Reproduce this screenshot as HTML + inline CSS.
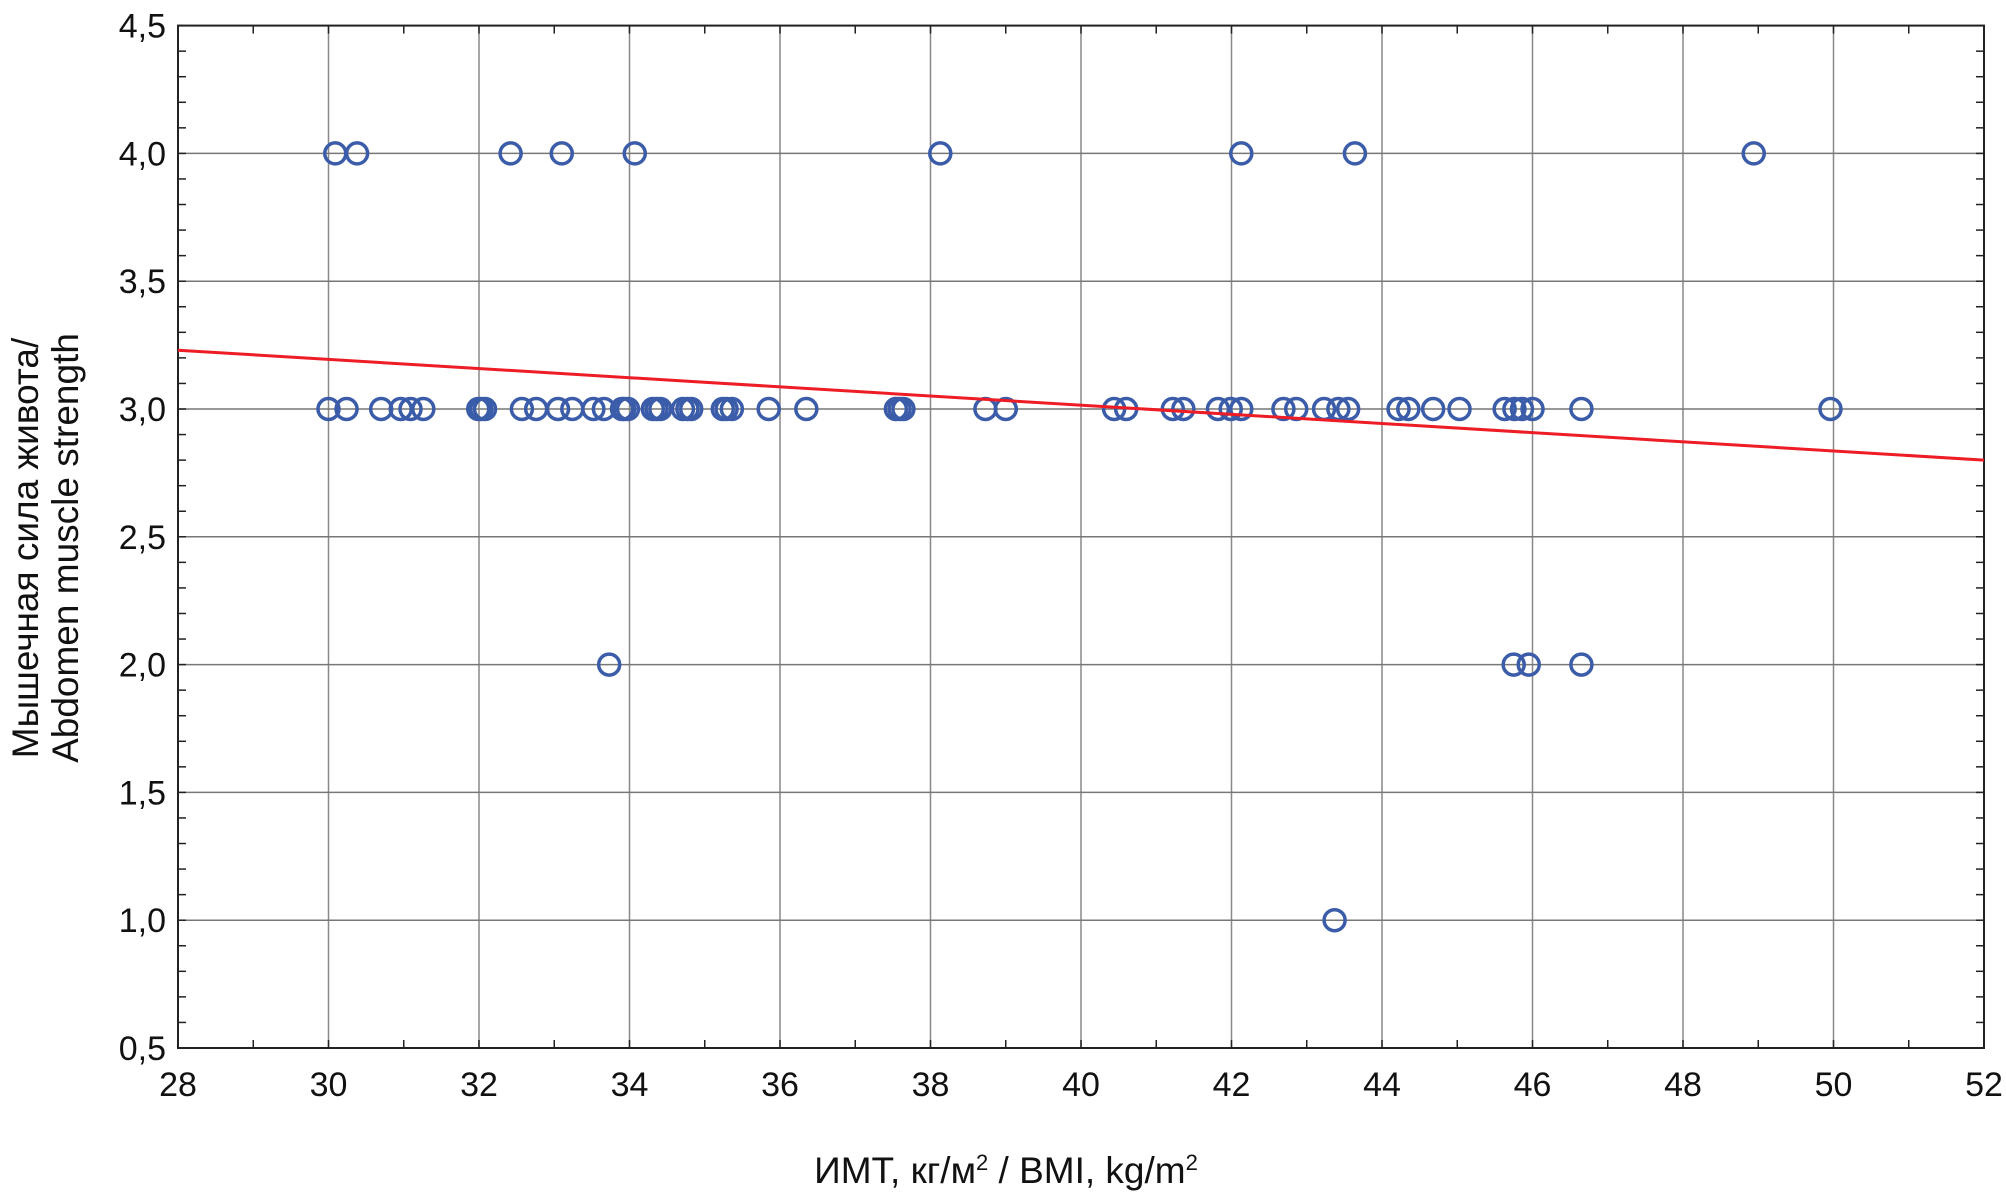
<!DOCTYPE html>
<html><head><meta charset="utf-8"><style>
html,body{margin:0;padding:0;background:#fff;}
svg{display:block;font-family:"Liberation Sans",Arial,sans-serif;}
</style></head><body>
<svg id="chart" width="2006" height="1194" viewBox="0 0 2006 1194" xmlns="http://www.w3.org/2000/svg">
<g id="grid"></g>
<g id="axes"></g>
<g id="marks"></g>
<text x="1006" y="1183" font-size="37" text-anchor="middle" fill="#111">ИМТ, кг/м<tspan font-size="22" dy="-13">2</tspan><tspan dy="13"> / BMI, kg/m</tspan><tspan font-size="22" dy="-13">2</tspan></text>
<g transform="translate(0,548) rotate(-90)">
<text x="0" y="38" font-size="37" text-anchor="middle" fill="#111">Мышечная сила живота/</text>
<text x="0" y="78" font-size="37" text-anchor="middle" fill="#111">Abdomen muscle strength</text>
</g>
</svg>
<script>
const xTicks=[28,30,32,34,36,38,40,42,44,46,48,50,52];
const yTicks=[0.5,1.0,1.5,2.0,2.5,3.0,3.5,4.0,4.5];
const yTickLabels=["0,5","1,0","1,5","2,0","2,5","3,0","3,5","4,0","4,5"];
const pointsX=[30.09,30.38,32.42,33.10,34.07,38.13,42.13,43.64,48.94,
30.0,30.24,30.70,30.96,31.09,31.26,31.99,32.03,32.08,32.57,32.76,33.05,33.24,33.52,33.66,33.90,33.93,33.98,34.31,34.36,34.41,34.71,34.77,34.82,35.24,35.29,35.36,35.85,36.35,37.54,37.59,37.64,38.73,39.0,40.44,40.60,41.22,41.36,41.82,41.99,42.13,42.69,42.86,43.23,43.42,43.55,44.22,44.35,44.68,45.03,45.63,45.76,45.86,46.0,46.65,49.96,
33.73,45.75,45.95,46.65,43.37];
const pointsY=[4,4,4,4,4,4,4,4,4,
3,3,3,3,3,3,3,3,3,3,3,3,3,3,3,3,3,3,3,3,3,3,3,3,3,3,3,3,3,3,3,3,3,3,3,3,3,3,3,3,3,3,3,3,3,3,3,3,3,3,3,3,3,3,3,3,
2,2,2,2,1];
const fitX=[28,52];
const fitY=[3.23,2.80];
const L=178,R=1984,T=25.6,B=1048;
const X0=28,X1=52,Y0=0.5,Y1=4.5;
const sx=v=>L+(v-X0)/(X1-X0)*(R-L);
const sy=v=>B-(v-Y0)/(Y1-Y0)*(B-T);
const NS="http://www.w3.org/2000/svg";
function mk(t,a,p){const e=document.createElementNS(NS,t);for(const k in a)e.setAttribute(k,a[k]);p.appendChild(e);return e;}
const grid=document.getElementById('grid'),axes=document.getElementById('axes'),marks=document.getElementById('marks');
xTicks.forEach(v=>{const l=mk('line',{x1:sx(v),x2:sx(v),y1:T,y2:B,stroke:'#888','stroke-width':1.5},grid);

const t=mk('text',{x:sx(v),y:B+48,'font-size':34,'text-anchor':'middle',fill:'#111'},axes);t.textContent=v;
});
yTicks.forEach((v,i)=>{const l=mk('line',{x1:L,x2:R,y1:sy(v),y2:sy(v),stroke:'#777','stroke-width':1.5},grid);

const t=mk('text',{x:L-12,y:sy(v)+12,'font-size':34,'text-anchor':'end',fill:'#111'},axes);t.textContent=yTickLabels[i];
});
for(let v=X0;v<=X1;v++){mk('line',{x1:sx(v),x2:sx(v),y1:B,y2:B-8,stroke:'#222','stroke-width':1.5},axes);mk('line',{x1:sx(v),x2:sx(v),y1:T,y2:T+8,stroke:'#222','stroke-width':1.5},axes);}
for(let i=5;i<=45;i++){const v=i/10;mk('line',{x1:L,x2:L+8,y1:sy(v),y2:sy(v),stroke:'#222','stroke-width':1.5},axes);mk('line',{x1:R,x2:R-8,y1:sy(v),y2:sy(v),stroke:'#222','stroke-width':1.5},axes);}
const fr=mk('rect',{x:L,y:T,width:R-L,height:B-T,fill:'none',stroke:'#222','stroke-width':2},axes);

pointsX.forEach((x,i)=>{const c=mk('circle',{cx:sx(x),cy:sy(pointsY[i]),r:10.5,fill:'none',stroke:'#3b5ca9','stroke-width':3.5},marks);
});
const fl=mk('line',{x1:sx(fitX[0]),y1:sy(fitY[0]),x2:sx(fitX[1]),y2:sy(fitY[1]),stroke:'#ee1c24','stroke-width':3},marks);

</script>
</body></html>
